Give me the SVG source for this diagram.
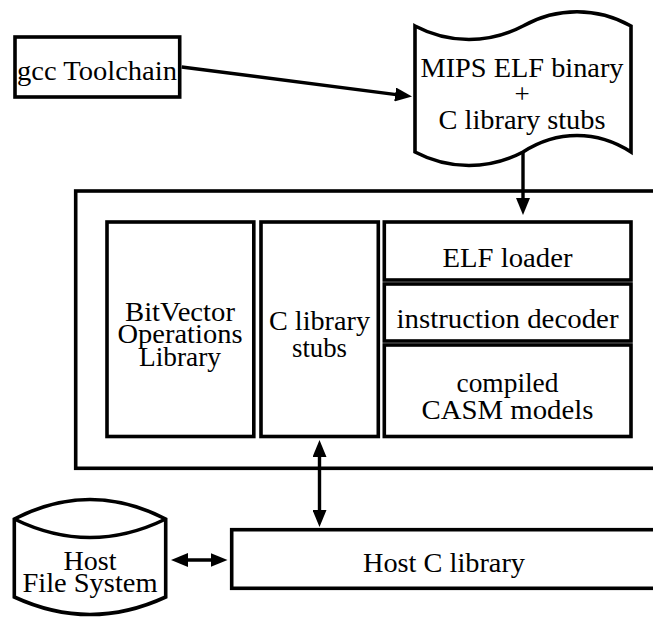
<svg xmlns="http://www.w3.org/2000/svg" width="653" height="617" viewBox="0 0 653 617">
  <style>
    .shape { fill: #ffffff; stroke: #000000; stroke-width: 3.6; }
    .label { font-family: "Liberation Serif", "Times New Roman", serif; font-size: 27px; fill: #000000; text-anchor: middle; }
    .edge { fill: none; stroke: #000000; stroke-width: 3.4; }
  </style>
  <defs>
    <marker id="head" markerUnits="userSpaceOnUse" viewBox="0 0 17 14" markerWidth="17" markerHeight="14" refX="9" refY="7" orient="auto-start-reverse">
      <path d="M0,0 L17,7 L0,14 z" fill="#000000"/>
    </marker>
  </defs>

  <rect width="653" height="617" fill="#ffffff"/>

  <!-- simulator container (runs past the right edge) -->
  <g id="simulator">
    <rect class="shape" x="75.7" y="191" width="620" height="277.3"/>
  </g>

  <g id="gcc-toolchain">
    <rect class="shape" x="15" y="37" width="164.7" height="60"/>
    <text class="label" x="97" y="80" textLength="160" lengthAdjust="spacingAndGlyphs">gcc Toolchain</text>
  </g>

  <!-- punched-tape shape for the program image -->
  <g id="mips-binary">
    <path class="shape" d="M415,26 C449,44 489,44 523,26 C557,7 597,7 631,26 L631,152 C597,130 557,130 523,152 C489,170 449,170 415,152 Z"/>
    <text class="label" x="522" y="77" textLength="203" lengthAdjust="spacingAndGlyphs">MIPS ELF binary</text>
    <text class="label" x="522" y="103">+</text>
    <text class="label" x="522" y="128.5" textLength="167" lengthAdjust="spacingAndGlyphs">C library stubs</text>
  </g>

  <g id="bitvector-library">
    <rect class="shape" x="107" y="222" width="146.8" height="214.5"/>
    <text class="label" x="180" y="321" textLength="110" lengthAdjust="spacingAndGlyphs">BitVector</text>
    <text class="label" x="180" y="343" textLength="125" lengthAdjust="spacingAndGlyphs">Operations</text>
    <text class="label" x="180" y="366" textLength="82" lengthAdjust="spacingAndGlyphs">Library</text>
  </g>

  <g id="c-library-stubs">
    <rect class="shape" x="261" y="222" width="117.3" height="214.5"/>
    <text class="label" x="319.5" y="330" textLength="101" lengthAdjust="spacingAndGlyphs">C library</text>
    <text class="label" x="319.5" y="357" textLength="55" lengthAdjust="spacingAndGlyphs">stubs</text>
  </g>

  <g id="elf-loader">
    <rect class="shape" x="384.3" y="222" width="246.7" height="58"/>
    <text class="label" x="507.5" y="267" textLength="130" lengthAdjust="spacingAndGlyphs">ELF loader</text>
  </g>

  <g id="instruction-decoder">
    <rect class="shape" x="384.3" y="284" width="246.7" height="57"/>
    <text class="label" x="507.5" y="328" textLength="222" lengthAdjust="spacingAndGlyphs">instruction decoder</text>
  </g>

  <g id="casm-models">
    <rect class="shape" x="384.3" y="345" width="246.7" height="91.5"/>
    <text class="label" x="507.5" y="392" textLength="102" lengthAdjust="spacingAndGlyphs">compiled</text>
    <text class="label" x="507.5" y="418.5" textLength="172" lengthAdjust="spacingAndGlyphs">CASM models</text>
  </g>

  <g id="host-c-library">
    <rect class="shape" x="231.7" y="529.7" width="430" height="58.6"/>
    <text class="label" x="444" y="572" textLength="162" lengthAdjust="spacingAndGlyphs">Host C library</text>
  </g>

  <!-- storage drum -->
  <g id="host-file-system">
    <path class="shape" d="M14.3,519 Q90,480 165.7,519 L165.7,597 Q90,632 14.3,597 Z"/>
    <path class="shape" fill="none" d="M14.3,519 Q90,556 165.7,519"/>
    <text class="label" x="90" y="570" textLength="53" lengthAdjust="spacingAndGlyphs">Host</text>
    <text class="label" x="90" y="592" textLength="135" lengthAdjust="spacingAndGlyphs">File System</text>
  </g>

  <g id="connectors">
    <path class="edge" d="M181.7,67 L404.1,95.6" marker-end="url(#head)"/>
    <path class="edge" d="M523,152 L523,207" marker-end="url(#head)"/>
    <path class="edge" d="M319.5,448 L319.5,519" marker-start="url(#head)" marker-end="url(#head)"/>
    <path class="edge" d="M179,560 L219.5,560" marker-start="url(#head)" marker-end="url(#head)"/>
  </g>
</svg>
